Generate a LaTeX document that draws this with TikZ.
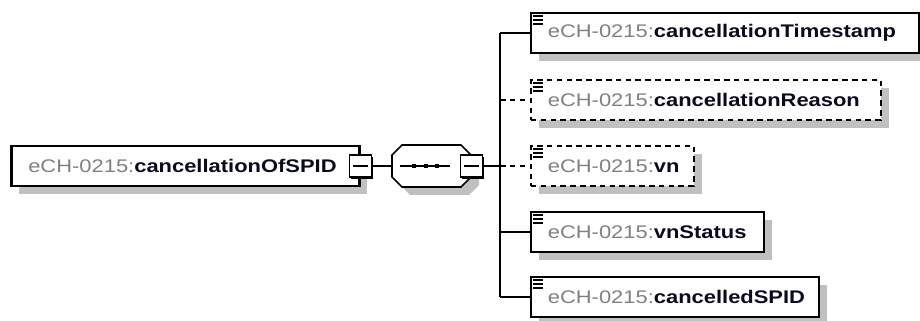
\documentclass[tikz,border=0pt]{standalone}
\usepackage{fontspec}
\setmainfont[FakeStretch=1.2]{Liberation Sans}
\usetikzlibrary{
    calc,
    shadows
}
\definecolor{prefixgray}{RGB}{128, 128, 128}
\definecolor{namenavy}{RGB}{10, 10, 30}
\definecolor{shadowgray}{RGB}{192, 192, 192}
\newcommand{\echname}[1]{\mbox{{\color{prefixgray}eCH-0215:}{\color{namenavy}\bfseries #1}}}

\begin{document}
\begin{tikzpicture}[
        elem/.style={draw, fill=white, line width=1.2pt, anchor=west, minimum height=1cm,
            inner xsep=0.425cm, inner ysep=0pt, text width=#1, align=left,
            font=\fontsize{13}{15}\selectfont,
            drop shadow={shadow xshift=0.2cm, shadow yshift=-0.2cm, fill=shadowgray, opacity=1}},
        optelem/.style={elem=#1, dash pattern=on 4pt off 3pt},
        minusbox/.style={draw, fill=white, line width=1.1pt, minimum size=0.55cm, inner sep=0pt,
            drop shadow={shadow xshift=0.04cm, shadow yshift=-0.04cm, fill=black, opacity=1}},
        link/.style={line width=1.2pt},
        optlink/.style={link, dash pattern=on 4pt off 3pt}
    ]
        \useasboundingbox (0, 0) rectangle (23, 8.025);

        % Root element
        \node[elem=7.85cm, line width=1.8pt] (root) at (0.25, 3.875) {\echname{cancellationOfSPID}};
        \node[minusbox] (rootminus) at (root.east) {};
        \draw[line width=1pt] ([xshift=0.1cm]rootminus.west) -- ([xshift=-0.1cm]rootminus.east);

        % Sequence compositor
        \node[minimum width=1.975cm, minimum height=1.05cm] (seq) at (10.7875, 3.875) {};
        \fill[shadowgray, shift={($(seq.center)+(0.2,-0.2)$)}]
            (-0.7375,0.525) -- (0.7375,0.525) -- (0.9875,0.275) -- (0.9875,-0.275)
            -- (0.7375,-0.525) -- (-0.7375,-0.525) -- (-0.9875,-0.275) -- (-0.9875,0.275) -- cycle;
        \draw[link, fill=white, shift={(seq.center)}]
            (-0.7375,0.525) -- (0.7375,0.525) -- (0.9875,0.275) -- (0.9875,-0.275)
            -- (0.7375,-0.525) -- (-0.7375,-0.525) -- (-0.9875,-0.275) -- (-0.9875,0.275) -- cycle;
        \draw[line width=1pt, shift={(seq.center)}] (-0.7875,0) -- (0.4625,0);
        \foreach \dx in {-0.4375, -0.1375, 0.1375}
            \fill[shift={(seq.center)}] (\dx-0.06,-0.06) rectangle (\dx+0.06,0.06);
        \node[minusbox] (seqminus) at (seq.east) {};
        \draw[line width=1pt] ([xshift=0.1cm]seqminus.west) -- ([xshift=-0.1cm]seqminus.east);

        % Child elements
        \node[elem=8.85cm] (stamp) at (13.25, 7.2) {\echname{cancellationTimestamp}};
        \node[optelem=7.9cm] (reason) at (13.25, 5.525) {\echname{cancellationReason}};
        \node[optelem=3.225cm] (vn) at (13.25, 3.875) {\echname{vn}};
        \node[elem=4.975cm] (vnstatus) at (13.25, 2.225) {\echname{vnStatus}};
        \node[elem=6.35cm] (spid) at (13.25, 0.6) {\echname{cancelledSPID}};

        % Content icons
        \foreach \n in {stamp, reason, vn, vnstatus, spid}
            \foreach \k in {1, 2, 3}
                \draw[line width=1.1pt] ([shift={(0.075,-0.1*\k)}]\n.north west) -- ++(0.25,0);

        % Connectors
        \coordinate (fork) at (12.5, 3.875);
        \draw[link] (rootminus.east) -- (seq.west);
        \draw[link] (seqminus.east) -- (fork);
        \draw[link] (fork |- stamp.west) -- (fork |- spid.west);
        \draw[link] (fork |- stamp.west) -- (stamp.west);
        \draw[optlink] (fork |- reason.west) -- (reason.west);
        \draw[optlink] (fork) -- (vn.west);
        \draw[link] (fork |- vnstatus.west) -- (vnstatus.west);
        \draw[link] (fork |- spid.west) -- (spid.west);
    \end{tikzpicture}
\end{document}
